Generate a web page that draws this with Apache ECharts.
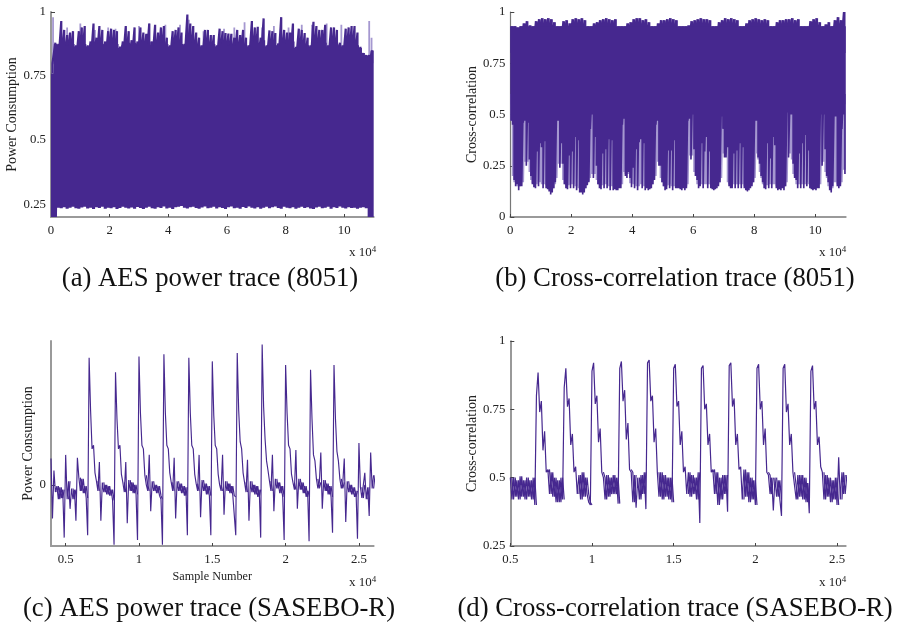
<!DOCTYPE html>
<html><head><meta charset="utf-8">
<style>html,body{margin:0;padding:0;background:#fff}
#c{position:absolute;left:0;top:0;width:897px;height:623px;filter:blur(0.55px)}
#t{position:absolute;left:0;top:0;width:897px;height:623px}</style>
<script src="https://cdn.jsdelivr.net/npm/echarts@6/dist/echarts.min.js"></script>
</head><body><div id="c"></div><div id="t"></div>
<script>
const aHi=[.76,.88,.875,.965,.93,.91,.92,.925,.87,.925,.94,.945,.87,.885,.955,.90,.945,.93,.885,.925,.935,.93,.925,.865,.885,.945,.925,.89,.94,.885,.94,.92,.915,.955,.885,.95,.92,.94,.945,.90,.87,.925,.93,.94,.92,.875,.99,.955,.945,.92,.90,.87,.93,.93,.91,.91,.87,.935,.925,.918,.916,.915,.90,.93,.91,.93,.90,.87,.965,.94,.942,.90,.975,.87,.928,.925,.918,.877,.98,.93,.92,.92,.955,.864,.935,.93,.918,.90,.87,.962,.945,.93,.93,.95,.87,.94,.94,.93,.88,.87,.935,.94,.945,.945,.92,.864,.84,.832,.832,.85];
const aLo=[.2,.2,.236,.234,.238,.232,.236,.24,.234,.232,.237,.24,.233,.236,.231,.238,.235,.24,.232,.236,.234,.238,.231,.235,.24,.236,.233,.237,.232,.239,.235,.231,.236,.24,.234,.232,.238,.235,.241,.233,.236,.231,.238,.24,.243,.236,.233,.238,.24,.235,.232,.237,.241,.234,.236,.24,.233,.238,.235,.231,.238,.241,.234,.236,.232,.239,.235,.241,.236,.233,.238,.232,.236,.24,.234,.238,.241,.235,.232,.24,.236,.234,.238,.232,.236,.24,.235,.238,.233,.231,.237,.24,.234,.236,.24,.232,.238,.235,.241,.236,.233,.238,.235,.236,.232,.236,.238,.234,.2,.2];
const aLightX=[.07,.55,1.0,1.5,1.95,2.2,2.55,3.0,3.35,3.9,4.4,4.7,5.2,5.9,6.25,6.6,7.2,7.6,8.1,8.55,8.9,9.4,9.9,10.85,10.93];
const aLightTop=[.98,.94,.955,.93,.94,.935,.94,.945,.955,.95,.95,.97,.925,.935,.94,.96,.94,.945,.94,.95,.95,.955,.95,.965,.9];
const aBody=[.76,.875,.87,.875,.875,.87,.88,.875,.865,.875,.88,.875,.865,.87,.885,.875,.88,.875,.87,.875,.88,.875,.875,.86,.87,.885,.88,.87,.88,.87,.885,.875,.875,.885,.87,.88,.875,.88,.885,.875,.865,.875,.88,.885,.875,.87,.89,.885,.88,.875,.87,.865,.875,.875,.87,.875,.865,.88,.875,.875,.87,.875,.87,.88,.875,.875,.87,.865,.89,.885,.88,.875,.89,.865,.875,.875,.87,.87,.885,.88,.875,.875,.885,.86,.88,.875,.875,.87,.865,.885,.88,.875,.875,.88,.865,.875,.88,.875,.87,.865,.875,.88,.885,.88,.87,.86,.84,.83,.83,.85];
const bHi=[.93,.93,.925,.93,.945,.955,.935,.93,.955,.965,.97,.965,.97,.965,.95,.93,.93,.955,.96,.945,.965,.97,.965,.97,.96,.93,.93,.945,.95,.96,.965,.97,.965,.96,.965,.93,.93,.93,.945,.95,.965,.97,.97,.96,.965,.95,.93,.93,.945,.96,.96,.965,.97,.965,.96,.93,.93,.93,.935,.955,.96,.965,.97,.965,.965,.96,.93,.93,.95,.96,.97,.965,.97,.965,.96,.93,.93,.945,.96,.965,.97,.965,.96,.965,.96,.93,.93,.95,.96,.96,.965,.965,.97,.96,.965,.93,.93,.93,.955,.965,.97,.95,.93,.94,.95,.93,.96,.975,.96,1.0];
const bLo=[.47,.45,.18,.15,.16,.13,.15,.15,.46,.47,.25,.46,.28,.20,.16,.145,.14,.32,.15,.36,.34,.14,.37,.14,.135,.125,.11,.12,.14,.17,.47,.47,.24,.36,.26,.16,.14,.135,.30,.14,.32,.14,.39,.13,.375,.12,.12,.11,.12,.14,.155,.17,.43,.50,.19,.39,.25,.16,.14,.135,.31,.14,.33,.14,.38,.13,.375,.13,.135,.13,.13,.14,.14,.45,.48,.2,.19,.22,.19,.145,.24,.14,.33,.13,.365,.38,.14,.36,.13,.14,.13,.135,.14,.16,.18,.45,.47,.25,.25,.17,.15,.13,.135,.325,.14,.325,.13,.375,.14,.14,.14,.135,.13,.14,.13,.14,.47,.48,.28,.50,.33,.2,.18,.14,.15,.36,.14,.32,.39,.14,.32,.14,.135,.13,.135,.14,.15,.17,.49,.43,.29,.29,.34,.15,.14,.14,.31,.14,.325,.14,.36,.14,.34,.14,.13,.125,.13,.14,.15,.17,.47,.47,.29,.26,.2,.17,.14,.135,.36,.14,.285,.14,.39,.35,.14,.13,.135,.13,.14,.13,.15,.51,.29,.50,.5,.26,.19,.18,.14,.31,.14,.36,.14,.40,.15,.325,.14,.135,.13,.135,.13,.14,.14,.50,.25,.50,.33,.2,.17,.13,.12,.15,.49,.49,.15,.14,.15,.43,.50,.21];
const cVals=[.22,-.28,.12,-.06,-.01,-.12,-.02,-.11,-.04,-.44,.25,-.12,.03,-.2,-.03,-.12,-.04,-.3,.225,.06,-.05,.05,-.07,-.01,-.11,-.42,1.06,.62,.3,.33,.1,.03,-.05,.19,-.3,.02,-.06,0,-.08,-.01,-.09,-.04,-.13,-.5,.94,.55,.3,.33,.09,.02,-.06,.19,-.32,.04,-.05,.02,-.07,0,-.08,-.46,1.07,.6,.33,.3,.08,0,-.05,.25,-.22,.03,-.05,0,-.07,-.01,-.09,-.12,-.5,1.09,.6,.33,.3,.1,.02,-.05,.225,-.28,.03,-.05,.01,-.07,-.01,-.09,-.02,-.42,1.06,.6,.33,.3,.09,.01,-.05,.25,-.27,.04,-.05,.01,-.08,-.01,-.09,-.42,1.03,.58,.33,.3,.09,0,-.05,.25,-.25,.03,-.05,.01,-.07,-.01,-.09,-.1,-.42,1.1,.62,.36,.3,.1,.02,-.06,.21,-.3,.03,-.06,0,-.08,-.01,-.1,-.04,-.44,1.17,.65,.38,.2,.12,.03,-.05,.25,-.22,.05,-.03,.02,-.07,-.01,-.1,-.46,1.0,.6,.33,.3,.09,.02,-.04,.29,-.2,.05,-.04,.02,-.07,-.01,-.1,-.05,-.47,.96,.55,.25,.2,.05,-.03,.02,.27,-.2,.04,-.05,.01,-.08,-.01,-.1,-.4,1.0,.55,.28,.2,.05,-.03,.02,.22,-.31,.03,-.06,0,-.08,-.02,-.1,-.05,-.45,.35,-.02,-.11,0,.1,-.12,-.02,-.26,.27,-.03,.08];
const dVals=[.50,.42,.50,.43,.49,.42,.505,.43,.49,.42,.50,.43,.49,.42,.50,.40,.80,.885,.74,.78,.60,.67,.52,.53,.44,.52,.43,.50,.41,.49,.41,.50,.42,.83,.90,.76,.79,.62,.66,.52,.54,.44,.51,.42,.52,.43,.50,.44,.41,.40,.89,.92,.77,.80,.63,.68,.52,.50,.42,.51,.43,.50,.44,.51,.44,.50,.405,.90,.925,.78,.82,.64,.70,.53,.52,.41,.51,.39,.50,.42,.51,.44,.52,.385,.92,.93,.78,.80,.63,.68,.52,.43,.52,.42,.51,.43,.50,.42,.50,.41,.90,.915,.76,.78,.62,.67,.52,.54,.44,.52,.43,.51,.44,.50,.42,.52,.334,.90,.91,.75,.77,.62,.66,.52,.53,.44,.52,.40,.50,.42,.51,.44,.51,.375,.91,.92,.76,.79,.62,.66,.53,.54,.42,.53,.43,.52,.41,.50,.42,.49,.40,.90,.915,.75,.78,.62,.68,.52,.51,.44,.50,.38,.50,.43,.49,.42,.36,.90,.915,.74,.77,.62,.66,.52,.52,.42,.51,.43,.51,.42,.50,.41,.48,.37,.89,.91,.75,.78,.62,.65,.54,.52,.42,.51,.43,.50,.41,.49,.42,.50,.40,.575,.42,.52,.44,.51];
const xTicksAB=[0,2,4,6,8,10], xTicksCD=[.5,1,1.5,2,2.5];
const yTicksA=[.25,.5,.75,1], yTicksB=[0,.25,.5,.75,1], yTicksC=[0], yTicksD=[.25,.5,.75,1];
const captions=['(a) AES power trace (8051)','(b) Cross-correlation trace (8051)','(c) AES power trace (SASEBO-R)','(d) Cross-correlation trace (SASEBO-R)'];
const names={power:'Power Consumption',corr:'Cross-correlation',sample:'Sample Number'};

const DARK='#46288f', LIGHT='#a598d0', GREY='#9a9a9a', TXT='#222', F='"Liberation Serif"';
function zig(x0,step,hi,lo){const o=[];hi.forEach((h,i)=>{const x=x0+step*i;const l=Array.isArray(lo)?lo[i]:lo;o.push([x,h],[x,l]);});return o;}
function zigLo(x0,step,lo,top){const o=[];lo.forEach((l,i)=>{const x=x0+step*i;o.push([x,top],[x,l]);});return o;}
function paleLo(lo){return lo.map((l,i)=>Math.min(l,lo[i-1]===undefined?l:lo[i-1],lo[i+1]===undefined?l:lo[i+1])+.02);}
function seq(x0,step,v){return v.map((y,i)=>[x0+step*i,y]);}
function band(x0,step,v,lo,hi){return v.map((y,i)=>[x0+step*i,(y<lo||y>hi)?'-':y]);}
function spikes(xs,tops,base){const o=[];xs.forEach((x,i)=>o.push([x,base],[x,tops[i]],[x,base]));return o;}
function line(i,data,w,color){return{type:'line',xAxisIndex:i,yAxisIndex:i,data,showSymbol:false,symbol:'none',silent:true,animation:false,lineStyle:{color:color||DARK,width:w,join:'bevel'}};}
const grids=[{left:51,width:322.6,top:12,height:205},{left:510.3,width:335.4,top:12,height:205},{left:51,width:322.6,top:341,height:205},{left:510.3,width:335.4,top:341,height:205}];
function xAx(i,min,max,ticks,name){return{type:'value',gridIndex:i,min,max,splitLine:{show:false},
 axisLine:{show:true,onZero:false,lineStyle:{color:GREY,width:2}},
 axisTick:{show:true,inside:true,length:3,customValues:ticks,lineStyle:{color:'#444'}},
 axisLabel:{margin:7,color:TXT,fontFamily:F,fontSize:12.8,customValues:ticks},
 name:name||'',nameLocation:'middle',nameGap:25,nameTextStyle:{color:TXT,fontFamily:F,fontSize:12.2}};}
function yAx(i,min,max,ticks,name,gap,w){return{type:'value',gridIndex:i,min,max,splitLine:{show:false},
 axisLine:{show:true,onZero:false,lineStyle:{color:w>1.5?GREY:'#777',width:w}},
 axisTick:{show:true,inside:true,length:4,customValues:ticks,lineStyle:{color:'#444'}},
 axisLabel:{margin:5,color:TXT,fontFamily:F,fontSize:12.8,customValues:ticks},
 name,nameLocation:'middle',nameGap:gap,nameTextStyle:{color:TXT,fontFamily:F,fontSize:14}};}
function exp(x,y){return{type:'text',x,y,silent:true,style:{text:'{a|x 10}{s|4}',rich:{a:{fontFamily:F,fontSize:13,fill:TXT},s:{fontFamily:F,fontSize:9,fill:TXT,verticalAlign:'top',padding:[0,0,7,0]}},verticalAlign:'middle'}};}
const chart=echarts.init(document.getElementById('c'));
chart.setOption({animation:false,backgroundColor:'#fff',grid:grids,
 xAxis:[xAx(0,0,11,xTicksAB),xAx(1,0,11,xTicksAB),xAx(2,.4,2.6,xTicksCD,names.sample),xAx(3,.5,2.553,xTicksCD)],
 yAxis:[yAx(0,.2,1,yTicksA,names.power,28,2),yAx(1,0,1,yTicksB,names.corr,31,1.2),yAx(2,-.51,1.2,yTicksC,names.power,13,2),yAx(3,.25,1,yTicksD,names.corr,31,1.5)],
 series:[
  line(0,spikes(aLightX,aLightTop,.8),1.8,LIGHT),
  line(0,zig(.05,.1,aHi,.8),2.2),
  line(0,zig(.05,.1,aBody,aLo),3.1),
  line(1,zig(.05,.1,bHi,.8),2.7),
  line(1,zig(.05,.1,bHi.map(v=>Math.min(v,.93)),.55),3.2),
  line(1,zigLo(.025,.05,paleLo(bLo),.6),1.65,LIGHT),
  line(1,zigLo(.025,.05,bLo,.6),1.65),
  line(2,band(.41,.01,cVals,-.13,.08),1.2),
  line(2,seq(.4,.01,cVals),1.15),
  line(3,band(.51,.01,dVals,.40,.53),1.2),
  line(3,seq(.5,.01,dVals),1.2)
 ],
 graphic:[exp(349,253),exp(819,253),exp(349,583),exp(819,583)]});
const tc=echarts.init(document.getElementById('t'));
const capPos=[[210,279],[675,279],[209,609],[675,609]];
tc.setOption({graphic:captions.map((t,i)=>({type:'text',x:capPos[i][0],y:capPos[i][1],silent:true,style:{text:t,fontFamily:F,fontSize:26.7,fill:'#111',align:'center',verticalAlign:'middle'}}))});
</script></body></html>
